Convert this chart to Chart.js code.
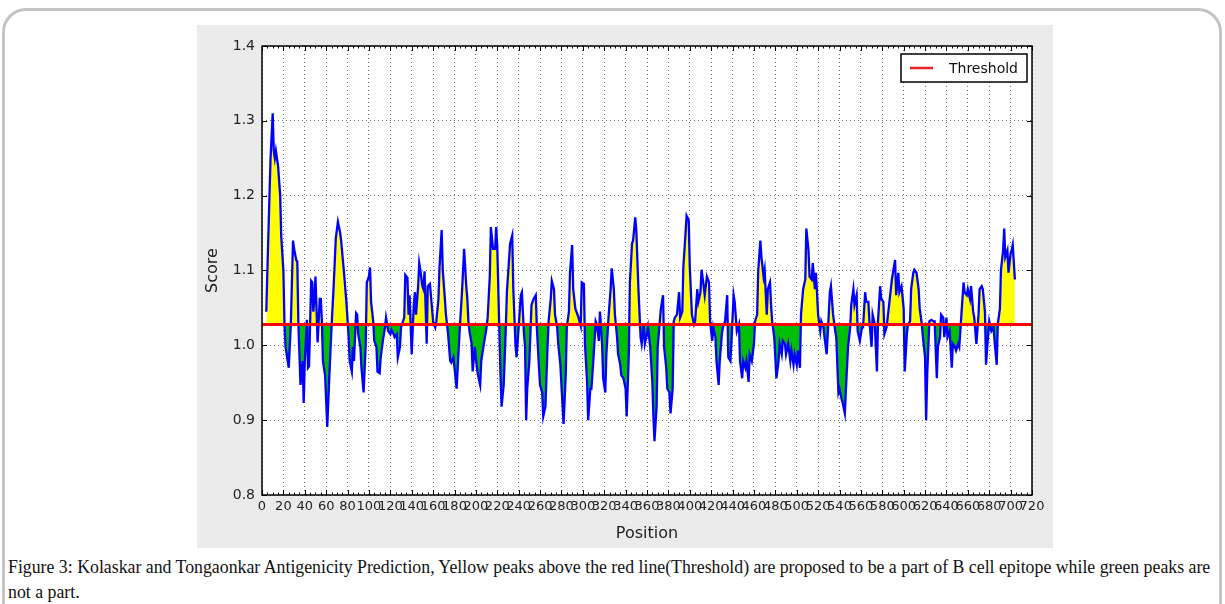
<!DOCTYPE html>
<html>
<head>
<meta charset="utf-8">
<script src="https://cdn.jsdelivr.net/npm/chart.js@4/dist/chart.umd.min.js"></script>
<style>
  body { margin: 0; background: #fff; width: 1225px; height: 604px; overflow: hidden; position: relative; }
  #frame { position: absolute; left: 2px; top: 8px; width: 1220px; height: 620px; box-sizing: border-box;
           border: 3px solid #c4c4c4; border-radius: 24px; }
  #fig { position: absolute; left: 197px; top: 25px; width: 856px; height: 523px; background: #ebebeb; }
  #caption { position: absolute; left: 8px; top: 555px; font-family: "Liberation Serif", serif; font-size: 17.8px;
             line-height: 25px; color: #111; white-space: nowrap; }
</style>
</head>
<body>
<div id="frame"></div>
<div id="fig"><canvas id="chart" width="856" height="523"></canvas></div>
<div id="caption">Figure 3: Kolaskar and Tongaonkar Antigenicity Prediction, Yellow peaks above the red line(Threshold) are proposed to be a part of B cell epitope while green peaks are<br>not a part.</div>
<script>
// residue positions and Kolaskar-Tongaonkar scores
const positions = [
  4,6,8,10,11,12,13,15,17,18,
  20,21,22,25,27,29,30,32,33,34,
  36,38,39,40,42,43,44,46,47,48,
  49,50,52,54,55,56,57,59,61,63,
  65,67,69,71,73,74,77,79,81,82,
  84,85,86,88,89,90,92,93,95,97,
  98,100,101,102,104,105,107,108,110,111,
  113,115,116,118,120,121,123,124,126,127,
  129,130,133,134,136,137,138,140,141,142,
  143,144,146,147,148,150,151,152,154,155,
  157,159,160,162,163,165,166,168,169,171,
  172,174,176,177,179,180,182,183,185,187,
  189,191,192,193,194,196,197,199,201,202,
  204,205,207,210,211,213,214,216,218,219,
  220,222,223,224,226,228,229,232,234,235,
  237,238,240,242,243,245,246,247,248,250,
  252,254,256,257,259,260,262,263,265,267,
  268,270,271,273,274,276,277,279,280,282,
  284,285,287,288,290,291,293,294,296,298,
  299,301,302,304,305,307,308,310,312,313,
  315,316,318,319,321,322,324,326,327,329,
  330,332,333,335,336,338,340,341,343,344,
  346,347,349,350,352,354,355,357,358,360,
  361,363,365,366,367,369,370,372,373,375,
  376,378,379,381,382,384,385,386,388,390,
  391,393,394,396,397,399,400,402,404,405,
  407,408,410,411,413,414,416,418,419,421,
  422,424,425,427,428,430,431,433,435,436,
  438,439,441,442,444,446,447,449,450,452,
  453,455,456,458,460,461,463,464,466,467,
  469,470,472,473,475,476,477,479,481,483,
  484,486,487,489,490,492,494,495,497,498,
  500,501,503,504,506,508,509,511,512,514,
  515,517,518,520,522,523,525,526,528,529,
  531,532,534,536,537,539,540,542,543,545,
  546,548,550,551,553,554,556,557,559,561,
  562,564,565,567,568,570,571,573,575,576,
  578,579,581,582,584,586,587,589,590,592,
  593,595,596,598,600,601,603,604,606,607,
  609,610,612,614,615,617,618,620,621,622,
  624,626,628,629,631,632,634,635,637,638,
  640,641,643,645,646,648,649,651,652,654,
  656,657,659,660,662,663,665,666,668,670,
  671,673,674,676,677,679,680,682,684,685,
  687,688,690,691,693,694,695,697,698,700,
  701,702,704
];
const scores = [
  1.045,1.15,1.25,1.31,1.26,1.25,1.26,1.24,1.20,1.145,
  1.10,1.03,0.998,0.970,1.03,1.140,1.129,1.114,1.112,1.03,
  0.947,0.979,0.923,0.979,1.034,0.970,0.972,1.086,1.084,1.045,
  1.062,1.092,1.004,1.062,1.062,1.032,0.979,0.960,0.891,0.960,
  1.024,1.079,1.143,1.165,1.151,1.140,1.092,1.056,1.011,0.979,
  0.965,0.998,0.979,1.043,1.041,1.015,0.998,0.970,0.937,1.002,
  1.084,1.092,1.104,1.058,1.032,1.006,0.998,0.965,0.963,0.984,
  1.006,1.024,1.037,1.019,1.015,1.021,1.015,1.011,1.015,0.984,
  0.998,1.024,1.037,1.094,1.090,1.041,1.067,0.988,1.024,1.056,
  1.071,1.041,1.079,1.110,1.101,1.079,1.075,1.099,1.002,1.079,
  1.082,1.049,1.032,1.024,1.032,1.062,1.105,1.154,1.101,1.062,
  1.041,1.015,0.979,0.977,0.984,0.970,0.942,0.970,1.024,1.071,
  1.129,1.079,1.062,1.032,1.019,1.002,0.965,0.998,0.970,0.960,
  0.947,0.979,0.998,1.024,1.037,1.092,1.158,1.129,1.129,1.158,
  1.132,1.015,0.960,0.918,0.947,1.024,1.071,1.136,1.147,1.075,
  1.002,0.984,1.024,1.067,1.071,1.015,0.998,0.900,0.942,0.979,
  1.054,1.062,1.067,1.024,0.970,0.947,0.937,0.905,0.918,0.998,
  1.032,1.062,1.086,1.075,1.041,1.024,1.002,0.974,0.947,0.895,
  0.960,1.024,1.045,1.097,1.134,1.075,1.049,1.045,1.037,1.026,
  1.084,1.082,1.002,0.951,0.900,0.942,0.942,0.984,1.032,1.028,
  1.006,1.045,1.002,0.956,0.937,0.988,1.037,1.075,1.103,1.075,
  1.041,1.011,0.988,0.974,0.960,0.956,0.942,0.905,0.988,1.084,
  1.136,1.140,1.171,1.154,1.075,1.011,1.002,1.028,1.002,1.015,
  1.024,0.998,0.951,0.905,0.872,0.919,0.998,1.032,1.049,1.067,
  0.998,0.970,0.942,0.937,0.909,0.942,1.032,1.037,1.041,1.071,
  1.037,1.045,1.105,1.149,1.173,1.167,1.105,1.041,1.028,1.032,
  1.075,1.058,1.071,1.101,1.079,1.067,1.092,1.084,1.032,1.006,
  1.024,1.011,0.979,0.947,0.979,1.015,1.024,1.032,1.067,0.984,
  0.979,1.006,1.067,1.058,1.019,1.028,0.979,0.956,0.979,0.970,
  0.979,0.951,0.988,0.979,1.002,1.032,1.041,1.100,1.140,1.118,
  1.092,1.101,1.041,1.075,1.084,1.054,1.032,1.011,0.956,0.979,
  1.002,0.988,1.006,1.002,0.988,1.002,0.979,0.993,0.974,0.988,
  0.974,0.993,0.970,1.041,1.075,1.088,1.156,1.127,1.092,1.088,
  1.110,1.075,1.097,1.041,1.019,1.032,1.024,1.011,0.988,1.015,
  1.071,1.079,1.041,1.019,1.011,0.937,0.942,0.928,0.923,0.909,
  0.942,0.998,1.024,1.054,1.075,1.054,1.067,1.019,1.006,1.024,
  1.024,1.071,1.058,1.058,1.032,0.998,1.041,1.028,0.965,1.032,
  1.079,1.062,1.058,1.015,1.024,1.049,1.062,1.088,1.097,1.114,
  1.067,1.097,1.071,1.079,1.049,0.965,1.015,1.028,1.032,1.075,
  1.097,1.101,1.097,1.075,1.049,1.028,1.011,0.984,0.900,0.960,
  1.032,1.034,1.032,1.032,0.956,0.998,1.011,1.041,1.037,1.011,
  1.037,1.011,1.019,0.970,1.002,0.998,0.993,1.002,0.998,1.041,
  1.084,1.071,1.067,1.075,1.062,1.079,1.045,1.037,1.002,1.041,
  1.075,1.079,1.075,1.045,0.974,1.015,1.032,1.019,1.024,1.006,
  0.974,1.028,1.049,1.101,1.127,1.156,1.118,1.127,1.097,1.123,
  1.127,1.134,1.088
];
const threshold = 1.028;
const xTicks = [0,20,40,60,80,100,120,140,160,180,200,220,240,260,280,300,320,340,360,
                380,400,420,440,460,480,500,520,540,560,580,600,620,640,660,680,700,720];
const yTicks = [0.8, 0.9, 1.0, 1.1, 1.2, 1.3, 1.4];

const series = positions.map((p, i) => ({ x: p, y: scores[i] }));
const xMin = xTicks[0], xMax = xTicks[xTicks.length - 1];

// white plot area, inward ticks, frame and the boxed legend (matplotlib look)
const mplPlugin = {
  id: 'mpl',
  beforeDraw(chart) {
    const { ctx, chartArea: a } = chart;
    ctx.save();
    ctx.fillStyle = '#fff';
    ctx.fillRect(a.left, a.top, a.width, a.height);
    ctx.restore();
  },
  afterDraw(chart) {
    const { ctx, chartArea: a, scales } = chart;
    const x = scales.x, y = scales.y;
    ctx.save();
    ctx.strokeStyle = '#000';
    ctx.lineWidth = 1;
    ctx.beginPath();
    for (let v = xMin; v <= xMax; v += 5) {
      const px = Math.round(x.getPixelForValue(v)) + 0.5;
      const len = v % 20 === 0 ? 5 : 2.5;
      ctx.moveTo(px, a.bottom); ctx.lineTo(px, a.bottom - len);
      ctx.moveTo(px, a.top); ctx.lineTo(px, a.top + len);
    }
    yTicks.forEach(v => {
      const py = Math.round(y.getPixelForValue(v)) + 0.5;
      ctx.moveTo(a.left, py); ctx.lineTo(a.left + 5, py);
      ctx.moveTo(a.right, py); ctx.lineTo(a.right - 5, py);
    });
    ctx.stroke();
    ctx.lineWidth = 1.5;
    ctx.strokeRect(a.left, a.top, a.width, a.height);

    // legend
    const bx = a.right - 131, by = a.top + 8, bw = 126, bh = 28;
    ctx.fillStyle = '#fff';
    ctx.fillRect(bx, by, bw, bh);
    ctx.lineWidth = 1.5;
    ctx.strokeRect(bx, by, bw, bh);
    ctx.strokeStyle = '#e8212a';
    ctx.lineWidth = 2.5;
    ctx.beginPath();
    ctx.moveTo(bx + 9, by + bh / 2); ctx.lineTo(bx + 32, by + bh / 2);
    ctx.stroke();
    ctx.fillStyle = '#111';
    ctx.font = '14px "DejaVu Sans"';
    ctx.textBaseline = 'middle';
    ctx.fillText('Threshold', bx + 48, by + bh / 2 + 1);
    ctx.restore();
  }
};

Chart.defaults.font.family = '"DejaVu Sans", sans-serif';
Chart.defaults.color = '#222';

new Chart(document.getElementById('chart').getContext('2d'), {
  type: 'line',
  data: {
    datasets: [
      {
        label: 'Threshold',
        data: [{ x: xMin, y: threshold }, { x: xMax, y: threshold }],
        borderColor: '#ff0000',
        borderWidth: 3,
        pointRadius: 0,
        fill: false
      },
      {
        label: 'Score',
        data: series,
        borderColor: '#0000ff',
        borderWidth: 2.3,
        pointRadius: 0,
        tension: 0,
        fill: { target: { value: threshold }, above: '#ffff00', below: '#00bf00' }
      }
    ]
  },
  options: {
    responsive: false,
    animation: false,
    layout: { padding: { left: 0, right: 21, top: 21, bottom: 0 } },
    plugins: { legend: { display: false }, tooltip: { enabled: false } },
    scales: {
      x: {
        type: 'linear',
        min: xMin, max: xMax,
        afterBuildTicks: s => { s.ticks = xTicks.map(v => ({ value: v })); },
        afterFit: s => { s.height = 53; },
        ticks: { autoSkip: false, maxRotation: 0, padding: 4, font: { size: 13 }, color: '#222',
                 callback: v => String(v) },
        grid: { color: 'rgba(0,0,0,0.55)', lineWidth: 1, drawTicks: false },
        border: { display: false, dash: [1, 3] },
        title: { display: true, text: 'Position', font: { size: 16 }, color: '#222', padding: { top: 0, bottom: 5 } }
      },
      y: {
        min: 0.8, max: 1.4,
        afterBuildTicks: s => { s.ticks = yTicks.map(v => ({ value: v })); },
        afterFit: s => { s.width = 65; },
        ticks: { padding: 7, font: { size: 14 }, color: '#222', callback: v => v.toFixed(1) },
        grid: { color: 'rgba(0,0,0,0.55)', lineWidth: 1, drawTicks: false },
        border: { display: false, dash: [1, 3] },
        title: { display: true, text: 'Score', font: { size: 16 }, color: '#222', padding: { top: 6, bottom: 0 } }
      }
    }
  },
  plugins: [mplPlugin]
});
</script>
</body>
</html>
